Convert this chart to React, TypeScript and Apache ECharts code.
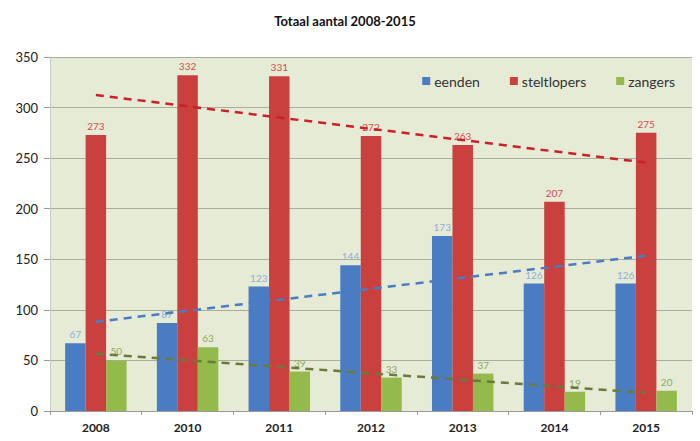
import React, { useEffect, useRef } from "react";
import * as echarts from "echarts";

const years = ["2008", "2010", "2011", "2012", "2013", "2014", "2015"];
const eenden = [67, 87, 123, 144, 173, 126, 126];
const steltlopers = [273, 332, 331, 272, 263, 207, 275];
const zangers = [50, 63, 39, 33, 37, 19, 20];

function trend(vals: number[]): number[] {
  const n = vals.length;
  const xs = vals.map((_, i) => i + 1);
  const mx = xs.reduce((a, b) => a + b, 0) / n;
  const my = vals.reduce((a, b) => a + b, 0) / n;
  let num = 0, den = 0;
  for (let i = 0; i < n; i++) {
    num += (xs[i] - mx) * (vals[i] - my);
    den += (xs[i] - mx) * (xs[i] - mx);
  }
  const b = num / den;
  const a = my - b * mx;
  return xs.map((x) => a + b * x);
}

const font = "Lato, 'Open Sans', sans-serif";

export default function App() {
  const ref = useRef<HTMLDivElement>(null);
  useEffect(() => {
    if (!ref.current) return;
    const chart = echarts.init(ref.current, null, { renderer: "svg" });
    const barLabel = (color: string) => ({
      show: true,
      position: "top" as const,
      color,
      fontSize: 10,
      fontFamily: font,
      distance: 4,
    });
    const trendLine = (vals: number[], color: string) => ({
      type: "line" as const,
      data: trend(vals),
      symbol: "none",
      silent: true,
      lineStyle: { color, width: 2.5, type: [8, 6] as any },
      z: 5,
    });
    chart.setOption({
      animation: false,
      backgroundColor: "#ffffff",
      title: {
        text: "Totaal aantal 2008-2015",
        left: 340,
        textAlign: "center",
        top: 9,
        textStyle: { fontSize: 13, fontWeight: "bold", color: "#111", fontFamily: font },
      },
      legend: {
        data: ["eenden", "steltlopers", "zangers"],
        top: 69,
        right: 20,
        itemWidth: 8,
        itemHeight: 8,
        itemGap: 30,
        icon: "rect",
        textStyle: { fontSize: 14, color: "#333", fontFamily: font, padding: [0, 0, 0, -1] },
      },
      grid: {
        left: 50,
        right: 8,
        top: 57,
        bottom: 30,
        show: true,
        backgroundColor: "#e6ebd5",
        borderWidth: 0,
      },
      xAxis: {
        type: "category",
        data: years,
        axisLine: { show: true, lineStyle: { color: "#9a9a9a" } },
        axisTick: { show: true, length: 4, lineStyle: { color: "#9a9a9a" } },
        axisLabel: { fontSize: 12, color: "#222", fontFamily: font, fontWeight: "bold", margin: 10 },
      },
      yAxis: {
        type: "value",
        min: 0,
        max: 350,
        interval: 50,
        axisLine: { show: true, lineStyle: { color: "#c8ccbc" } },
        axisTick: { show: true, length: 6, lineStyle: { color: "#9a9a9a" } },
        axisLabel: { fontSize: 13, color: "#222", fontFamily: font, margin: 12 },
        splitLine: { lineStyle: { color: "#a9ad9c", width: 1 } },
      },
      series: [
        {
          name: "eenden",
          type: "bar",
          data: eenden,
          barGap: "0%",
          barCategoryGap: "33%",
          itemStyle: { color: "#4a7cc4" },
          label: barLabel("#8aaedb"),
        },
        {
          name: "steltlopers",
          type: "bar",
          data: steltlopers,
          itemStyle: { color: "#c9403f" },
          label: barLabel("#d24a4a"),
        },
        {
          name: "zangers",
          type: "bar",
          data: zangers,
          itemStyle: { color: "#95ba4c" },
          label: barLabel("#8da860"),
        },
        trendLine(eenden, "#4a7cc4"),
        trendLine(steltlopers, "#c9202a"),
        trendLine(zangers, "#6b7a3a"),
      ],
    });
    return () => chart.dispose();
  }, []);
  return <div ref={ref} style={{ width: 700, height: 441, position: "absolute", left: 0, top: 0 }} />;
}
